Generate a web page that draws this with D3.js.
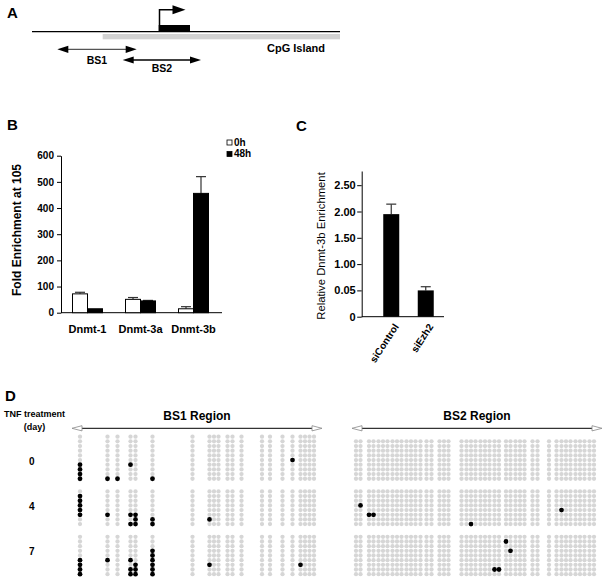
<!DOCTYPE html>
<html><head><meta charset="utf-8">
<script src="https://cdn.jsdelivr.net/npm/d3@7"></script>
<style>
body{margin:0;background:#fff}
svg{display:block}
text{font-family:"Liberation Sans",Arial,Helvetica,sans-serif;fill:#000}
</style>
</head><body>
<svg id="c" width="604" height="579"></svg>
<script>
// ---------- Panel A (schematic, arbitrary bp units) ----------
const aRegion = [0, 308];
const aCpG = [70.7, 308];
const aExon = [126.7, 158];
const aTSS = 127.5;
const aBS1 = [25.3, 104.7];
const aBS2 = [90.7, 169];

// ---------- Panel B ----------
const bGenes = ["Dnmt-1", "Dnmt-3a", "Dnmt-3b"];
const bSeries = ["0h", "48h"];
const b0h = [72, 51, 15];
const b0hErr = [6, 7, 8];
const b48h = [15, 45, 456];
const b48hErr = [0, 2, 64];
const bTicks = [0, 100, 200, 300, 400, 500, 600];

// ---------- Panel C ----------
const cGroups = ["siControl", "siEzh2"];
const cValues = [1.95, 0.50];
const cErr = [0.19, 0.07];
const cTickValues = [0, 0.5, 1.0, 1.5, 2.0, 2.5];
const cTickLabels = ["0", "0.05", "1.00", "1.50", "2.00", "2.50"];

// ---------- Panel D ----------
const days = ["0", "4", "7"];
const bs1Sites = [16, 71, 91, 117, 127, 161, 241, 275, 284, 293, 311, 321, 339, 380, 396, 421, 441, 457, 466, 475, 484];
const bs2Sites = [8, 17, 34, 43, 53, 62, 71, 81, 90, 99, 109, 118, 127, 137, 149, 159, 175, 184, 193,
  219, 229, 238, 247, 257, 266, 275, 285, 294, 308, 317, 327, 336, 345, 361, 371, 394,
  409, 419, 428, 437, 447, 456, 465, 475, 484];
const bs1Clones = [10, 8, 9];
const bs2Clones = [9, 8, 9];
// [site index, clone index]
const bs1Day0 = [[0,6],[0,7],[0,8],[0,9],[1,9],[2,9],[3,6],[5,9],[16,5]];
const bs1Day4 = [[0,1],[0,2],[0,3],[0,4],[0,5],[1,5],[3,5],[3,7],[4,5],[4,6],[4,7],[5,6],[5,7],[7,6]];
const bs1Day7 = [[0,5],[0,6],[0,7],[0,8],[1,5],[3,5],[3,7],[3,8],[4,6],[4,7],[4,8],[5,3],[5,4],[5,5],[5,6],[5,7],[5,8],[7,6],[17,6]];
const bs2Day0 = [];
const bs2Day4 = [[1,3],[2,5],[3,5],[21,7],[37,4]];
const bs2Day7 = [[28,1],[29,3],[26,7],[27,7]];

const svg = d3.select("#c");

function txt(x, y, s, size, weight, anchor) {
  return svg.append("text").attr("x", x).attr("y", y).text(s)
    .style("font-size", size + "px").style("font-weight", weight || "normal")
    .attr("text-anchor", anchor || "start");
}

// panel letters
txt(7, 18, "A", 15, "bold");
txt(7, 130, "B", 15, "bold");
txt(296, 131, "C", 15, "bold");
txt(5, 401, "D", 15, "bold");

// ================= Panel A =================
{
  const xA = d3.scaleLinear().domain(aRegion).range([32, 340]);
  const g = svg.append("g");
  g.append("rect").attr("x", xA(aCpG[0])).attr("y", 34).attr("width", xA(aCpG[1]) - xA(aCpG[0])).attr("height", 5.3).attr("fill", "#d2d2d2");
  g.append("line").attr("x1", xA(aRegion[0])).attr("x2", xA(aRegion[1])).attr("y1", 31.7).attr("y2", 31.7).attr("stroke", "#000").attr("stroke-width", 1.2);
  g.append("rect").attr("x", xA(aExon[0])).attr("y", 25).attr("width", xA(aExon[1]) - xA(aExon[0])).attr("height", 6.7).attr("fill", "#000");
  const tx = xA(aTSS);
  g.append("path").attr("d", `M${tx},31 V9.7 H${tx + 14}`).attr("fill", "none").attr("stroke", "#000").attr("stroke-width", 1.5);
  g.append("path").attr("d", `M${tx + 13},5.2 L${tx + 26},9.7 L${tx + 13},14.2 Z`).attr("fill", "#000");
  function dbl(r, y, col) {
    const x1 = xA(r[0]), x2 = xA(r[1]);
    g.append("line").attr("x1", x1 + 8).attr("x2", x2 - 8).attr("y1", y).attr("y2", y).attr("stroke", col).attr("stroke-width", 1.3);
    g.append("path").attr("d", `M${x1},${y} L${x1 + 11},${y - 3.6} L${x1 + 11},${y + 3.6} Z`).attr("fill", "#000");
    g.append("path").attr("d", `M${x2},${y} L${x2 - 11},${y - 3.6} L${x2 - 11},${y + 3.6} Z`).attr("fill", "#000");
  }
  dbl(aBS1, 49.3, "#555");
  dbl(aBS2, 60, "#000");
  txt((xA(aBS1[0]) + xA(aBS1[1])) / 2, 63.5, "BS1", 10.5, "bold", "middle");
  txt((xA(aBS2[0]) + xA(aBS2[1])) / 2, 72, "BS2", 10.5, "bold", "middle");
  txt(267, 52, "CpG Island", 11, "bold");
}

// ================= Panel B =================
{
  const yB = d3.scaleLinear().domain([0, 600]).range([312.7, 155.7]);
  const xB = d3.scaleBand().domain(bGenes).range([61, 220]).padding(0);
  const bw = 15;
  const g = svg.append("g");
  const ya = g.append("g").attr("transform", "translate(61,0)")
    .call(d3.axisLeft(yB).tickValues(bTicks).tickSize(4).tickSizeOuter(0).tickPadding(3));
  ya.selectAll("text").style("font-size", "10px").style("font-weight", "bold").attr("font-family", null);
  ya.selectAll("path,line").attr("stroke", "#000");
  const xa = g.append("g").attr("transform", `translate(0,${yB(0)})`)
    .call(d3.axisBottom(xB).tickSize(0).tickPadding(12.5));
  xa.select(".domain").remove();
  xa.selectAll("text").style("font-size", "11px").style("font-weight", "bold").attr("font-family", null);
  g.append("line").attr("x1", 61).attr("x2", 222).attr("y1", yB(0)).attr("y2", yB(0)).attr("stroke", "#000");

  const rows = bGenes.map((gname, i) => ({ g: gname, v0: b0h[i], e0: b0hErr[i], v1: b48h[i], e1: b48hErr[i] }));
  rows.forEach(r => {
    const c = xB(r.g) + xB.bandwidth() / 2;
    [[c - bw, r.v0, r.e0, "#fff"], [c, r.v1, r.e1, "#000"]].forEach(([x, v, e, f]) => {
      if (e > 0) {
        const xc = x + bw / 2;
        g.append("line").attr("x1", xc).attr("x2", xc).attr("y1", yB(v)).attr("y2", yB(v + e)).attr("stroke", "#333").attr("stroke-width", 1.2);
        g.append("line").attr("x1", xc - 5).attr("x2", xc + 5).attr("y1", yB(v + e)).attr("y2", yB(v + e)).attr("stroke", "#333").attr("stroke-width", 1.2);
      }
      g.append("rect").attr("x", x).attr("y", yB(v)).attr("width", bw).attr("height", yB(0) - yB(v))
        .attr("fill", f).attr("stroke", "#000").attr("stroke-width", 1);
    });
  });
  // legend
  const lg = g.append("g");
  bSeries.forEach((s, i) => {
    lg.append("rect").attr("x", 227).attr("y", 140 + i * 11.5).attr("width", 5).attr("height", 5)
      .attr("fill", i === 0 ? "#fff" : "#000").attr("stroke", "#000").attr("stroke-width", 0.8);
    txt(234, 145.5 + i * 11.5, s, 10, "bold");
  });
  svg.append("text").attr("transform", "translate(21,230) rotate(-90)").attr("text-anchor", "middle")
    .style("font-size", "12px").style("font-weight", "bold").text("Fold Enrichment at 105");
}

// ================= Panel C =================
{
  const yC = d3.scaleLinear().domain([0, 2.77]).range([316.7, 171]);
  const xC = d3.scaleBand().domain(cGroups).range([374, 443]).padding(0);
  const bw = 16;
  const g = svg.append("g");
  const ya = g.append("g").attr("transform", "translate(361.7,0)")
    .call(d3.axisLeft(yC).tickValues(cTickValues).tickFormat((d, i) => cTickLabels[i]).tickSize(4.5).tickSizeOuter(0).tickPadding(1.5));
  ya.selectAll("text").style("font-size", "11px").style("font-weight", "bold").attr("font-family", null);
  ya.selectAll("path,line").attr("stroke", "#000");
  g.append("line").attr("x1", 361.7).attr("x2", 444).attr("y1", yC(0)).attr("y2", yC(0)).attr("stroke", "#000");
  cGroups.forEach((gr, i) => {
    const c = xC(gr) + xC.bandwidth() / 2;
    const v = cValues[i], e = cErr[i];
    g.append("line").attr("x1", c).attr("x2", c).attr("y1", yC(v)).attr("y2", yC(v + e)).attr("stroke", "#333").attr("stroke-width", 1.2);
    g.append("line").attr("x1", c - 5).attr("x2", c + 5).attr("y1", yC(v + e)).attr("y2", yC(v + e)).attr("stroke", "#333").attr("stroke-width", 1.2);
    g.append("rect").attr("x", c - bw / 2).attr("y", yC(v)).attr("width", bw).attr("height", yC(0) - yC(v)).attr("fill", "#000");
  });
  const xa = g.append("g").attr("transform", `translate(0,${yC(0)})`)
    .call(d3.axisBottom(xC).tickSize(0));
  xa.select(".domain").remove();
  xa.selectAll("text").style("font-size", "10px").style("font-weight", "bold").attr("font-family", null)
    .attr("y", 0).attr("dy", "0.35em").attr("x", 0).attr("text-anchor", "end")
    .attr("transform", "translate(5,8) rotate(-57)");
  svg.append("text").attr("transform", "translate(325,246) rotate(-90)").attr("text-anchor", "middle")
    .style("font-size", "11.3px").text("Relative Dnmt-3b Enrichment");
}

// ================= Panel D =================
{
  const rowStep = 4.67, blockGap = 12.7, top0 = 436.7;
  const maxRows = days.map((d, i) => Math.max(bs1Clones[i], bs2Clones[i]));
  const tops = [];
  let t = top0;
  maxRows.forEach(m => { tops.push(t); t += (m - 1) * rowStep + blockGap; });

  txt(34.5, 416.5, "TNF treatment", 9, "bold", "middle");
  txt(34.5, 430, "(day)", 9, "bold", "middle");
  const yLab = d3.scalePoint().domain(days).range([461, 551]);
  days.forEach(d => {
    svg.append("text").attr("x", 31.7).attr("y", yLab(d)).attr("dy", "0.35em").attr("text-anchor", "middle")
      .style("font-size", "10px").style("font-weight", "bold").text(d);
  });

  function region(sites, clones, meth, x0, x1, title) {
    const xs = d3.scaleLinear().domain([0, 500]).range([x0, x1]);
    const y = 428.3;
    svg.append("line").attr("x1", x0 + 9).attr("x2", x1 - 9).attr("y1", y).attr("y2", y).attr("stroke", "#000").attr("stroke-width", 1);
    svg.append("path").attr("d", `M${x0},${y} L${x0 + 10},${y - 2.6} L${x0 + 10},${y + 2.6} Z`).attr("fill", "#fff").attr("stroke", "#888").attr("stroke-width", 0.8);
    svg.append("path").attr("d", `M${x1},${y} L${x1 - 10},${y - 2.6} L${x1 - 10},${y + 2.6} Z`).attr("fill", "#fff").attr("stroke", "#888").attr("stroke-width", 0.8);
    txt((x0 + x1) / 2, 419.5, title, 12, "bold", "middle");
    days.forEach((d, di) => {
      const n = clones[di];
      const first = tops[di] + (maxRows[di] - n) * rowStep;
      const set = new Set(meth[di].map(p => p[0] + "_" + p[1]));
      const cells = [];
      sites.forEach((s, si) => { for (let r = 0; r < n; r++) cells.push({ s, si, r, m: set.has(si + "_" + r) }); });
      svg.append("g").selectAll("circle").data(cells).join("circle")
        .attr("cx", c => xs(c.s)).attr("cy", c => first + c.r * rowStep)
        .attr("r", c => c.m ? 2.4 : 2.15)
        .attr("fill", c => c.m ? "#000" : "#d6d6d6");
    });
  }
  region(bs1Sites, bs1Clones, [bs1Day0, bs1Day4, bs1Day7], 72, 322, "BS1 Region");
  region(bs2Sites, bs2Clones, [bs2Day0, bs2Day4, bs2Day7], 352, 602, "BS2 Region");
}
</script>
</body></html>
